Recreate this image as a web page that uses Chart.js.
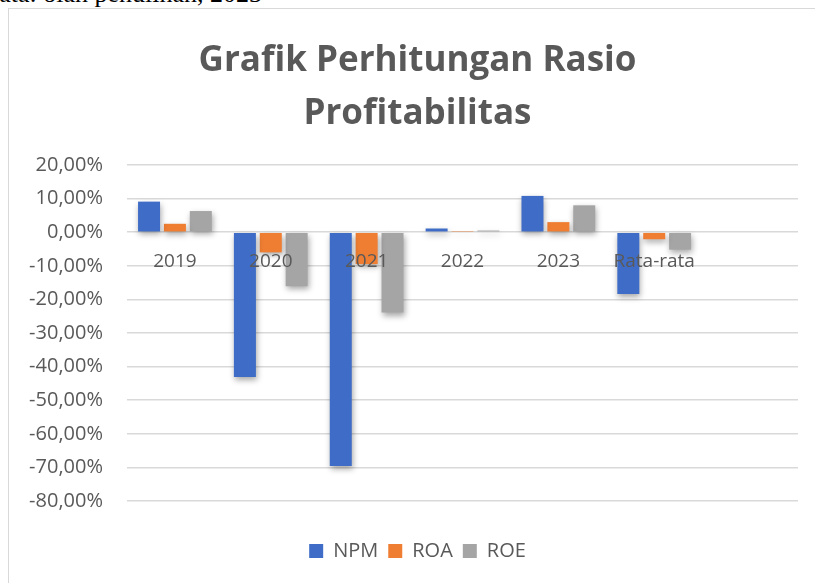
<!DOCTYPE html>
<html>
<head>
<meta charset="utf-8">
<script src="https://cdn.jsdelivr.net/npm/chart.js@4.4.1/dist/chart.umd.min.js"></script>
<style>
  html, body { margin:0; padding:0; background:#fff; overflow:hidden; }
  body { width:815px; height:583px; position:relative; }
  #sumber { position:absolute; right:553px; top:-19px; font-family:"Liberation Serif", "Times New Roman", serif; font-size:26px; line-height:26px; color:#000; white-space:nowrap; }
  #bingkai { position:absolute; left:8px; top:8px; width:820px; height:600px; border:1.5px solid #d9d9d9; box-sizing:border-box; }
  #wadah { position:absolute; left:0; top:0; width:815px; height:583px; }
</style>
</head>
<body>
<div id="sumber">Sumber: Data: olah penulihan, 2023</div>
<div id="bingkai"></div>
<div id="wadah"><canvas id="chartRasio"></canvas></div>
<script>
// ── Data (persen) ──
const tahun = ['2019', '2020', '2021', '2022', '2023', 'Rata-rata', ''];
const npm = [9.1, -43.1, -69.6, 1.1, 10.8, -18.4, null];
const roa = [2.5, -6.0, -9.5, 0.1, 3.0, -2.1, null];
const roe = [6.3, -16.1, -23.9, 0.5, 8.0, -5.2, null];
const judul = ['Grafik Perhitungan Rasio', 'Profitabilitas'];

const ABU = '#595959';
const GRID = '#d9d9d9';
const KIRI = 37;   // geser judul & legenda ke tengah bingkai
const fmtPersen = v => v.toFixed(2).replace('.', ',') + '%';

// bayangan halus di bawah batang, seperti gaya Excel
const bayangan = {
  id: 'bayangan',
  afterLayout(chart) {
    // label sumbu y jangan terpotong oleh padding kiri
    chart.scales.y.left = 0;
  },
  beforeDatasetsDraw(chart) {
    const c = chart.ctx;
    c.save();
    c.shadowColor = 'rgba(0,0,0,0.35)';
    c.shadowBlur = 6;
    c.shadowOffsetX = 1;
    c.shadowOffsetY = 3;
  },
  afterDatasetsDraw(chart) { chart.ctx.restore(); }
};

const seri = (label, data, warna) => ({
  label, data, backgroundColor: warna, borderWidth: 0,
  categoryPercentage: 0.81, barPercentage: 0.85
});

new Chart(document.getElementById('chartRasio'), {
  type: 'bar',
  data: {
    labels: tahun,
    datasets: [
      seri('NPM', npm, '#3e6cc6'),
      seri('ROA', roa, '#ef7e33'),
      seri('ROE', roe, '#a5a5a5'),
    ]
  },
  options: {
    responsive: true, maintainAspectRatio: false, animation: false,
    layout: { padding: { left: KIRI, right: 17, top: 0, bottom: 12 } },
    plugins: {
      title: {
        display: true, text: judul, color: ABU,
        font: { family: 'Open Sans', size: 35, weight: 'bold', lineHeight: 1.5 },
        padding: { top: 35, bottom: 25 }
      },
      legend: {
        position: 'bottom',
        labels: {
          color: ABU, boxWidth: 14, boxHeight: 14, padding: 10,
          font: { family: 'Open Sans', size: 20 }
        }
      },
      tooltip: { enabled: false }
    },
    scales: {
      x: {
        position: { y: 0 },
        grid: { display: false, drawTicks: false },
        border: { display: false },
        ticks: { z: 1, color: ABU, padding: 18, font: { family: 'Open Sans', size: 19 } }
      },
      xb: {
        type: 'category', position: 'bottom',
        grid: { display: false, drawTicks: false },
        border: { display: false },
        ticks: { display: false },
        afterFit(s) { s.height = 30; }
      },
      y: {
        min: -80, max: 20,
        grid: { color: GRID, lineWidth: 1.5, drawTicks: false },
        border: { display: false },
        ticks: {
          stepSize: 10, color: ABU, padding: 24,
          font: { family: 'Open Sans', size: 20 },
          callback: v => fmtPersen(v)
        },
        afterFit(s) { s.width = 127 - KIRI; }
      }
    }
  },
  plugins: [bayangan]
});
</script>
</body>
</html>
